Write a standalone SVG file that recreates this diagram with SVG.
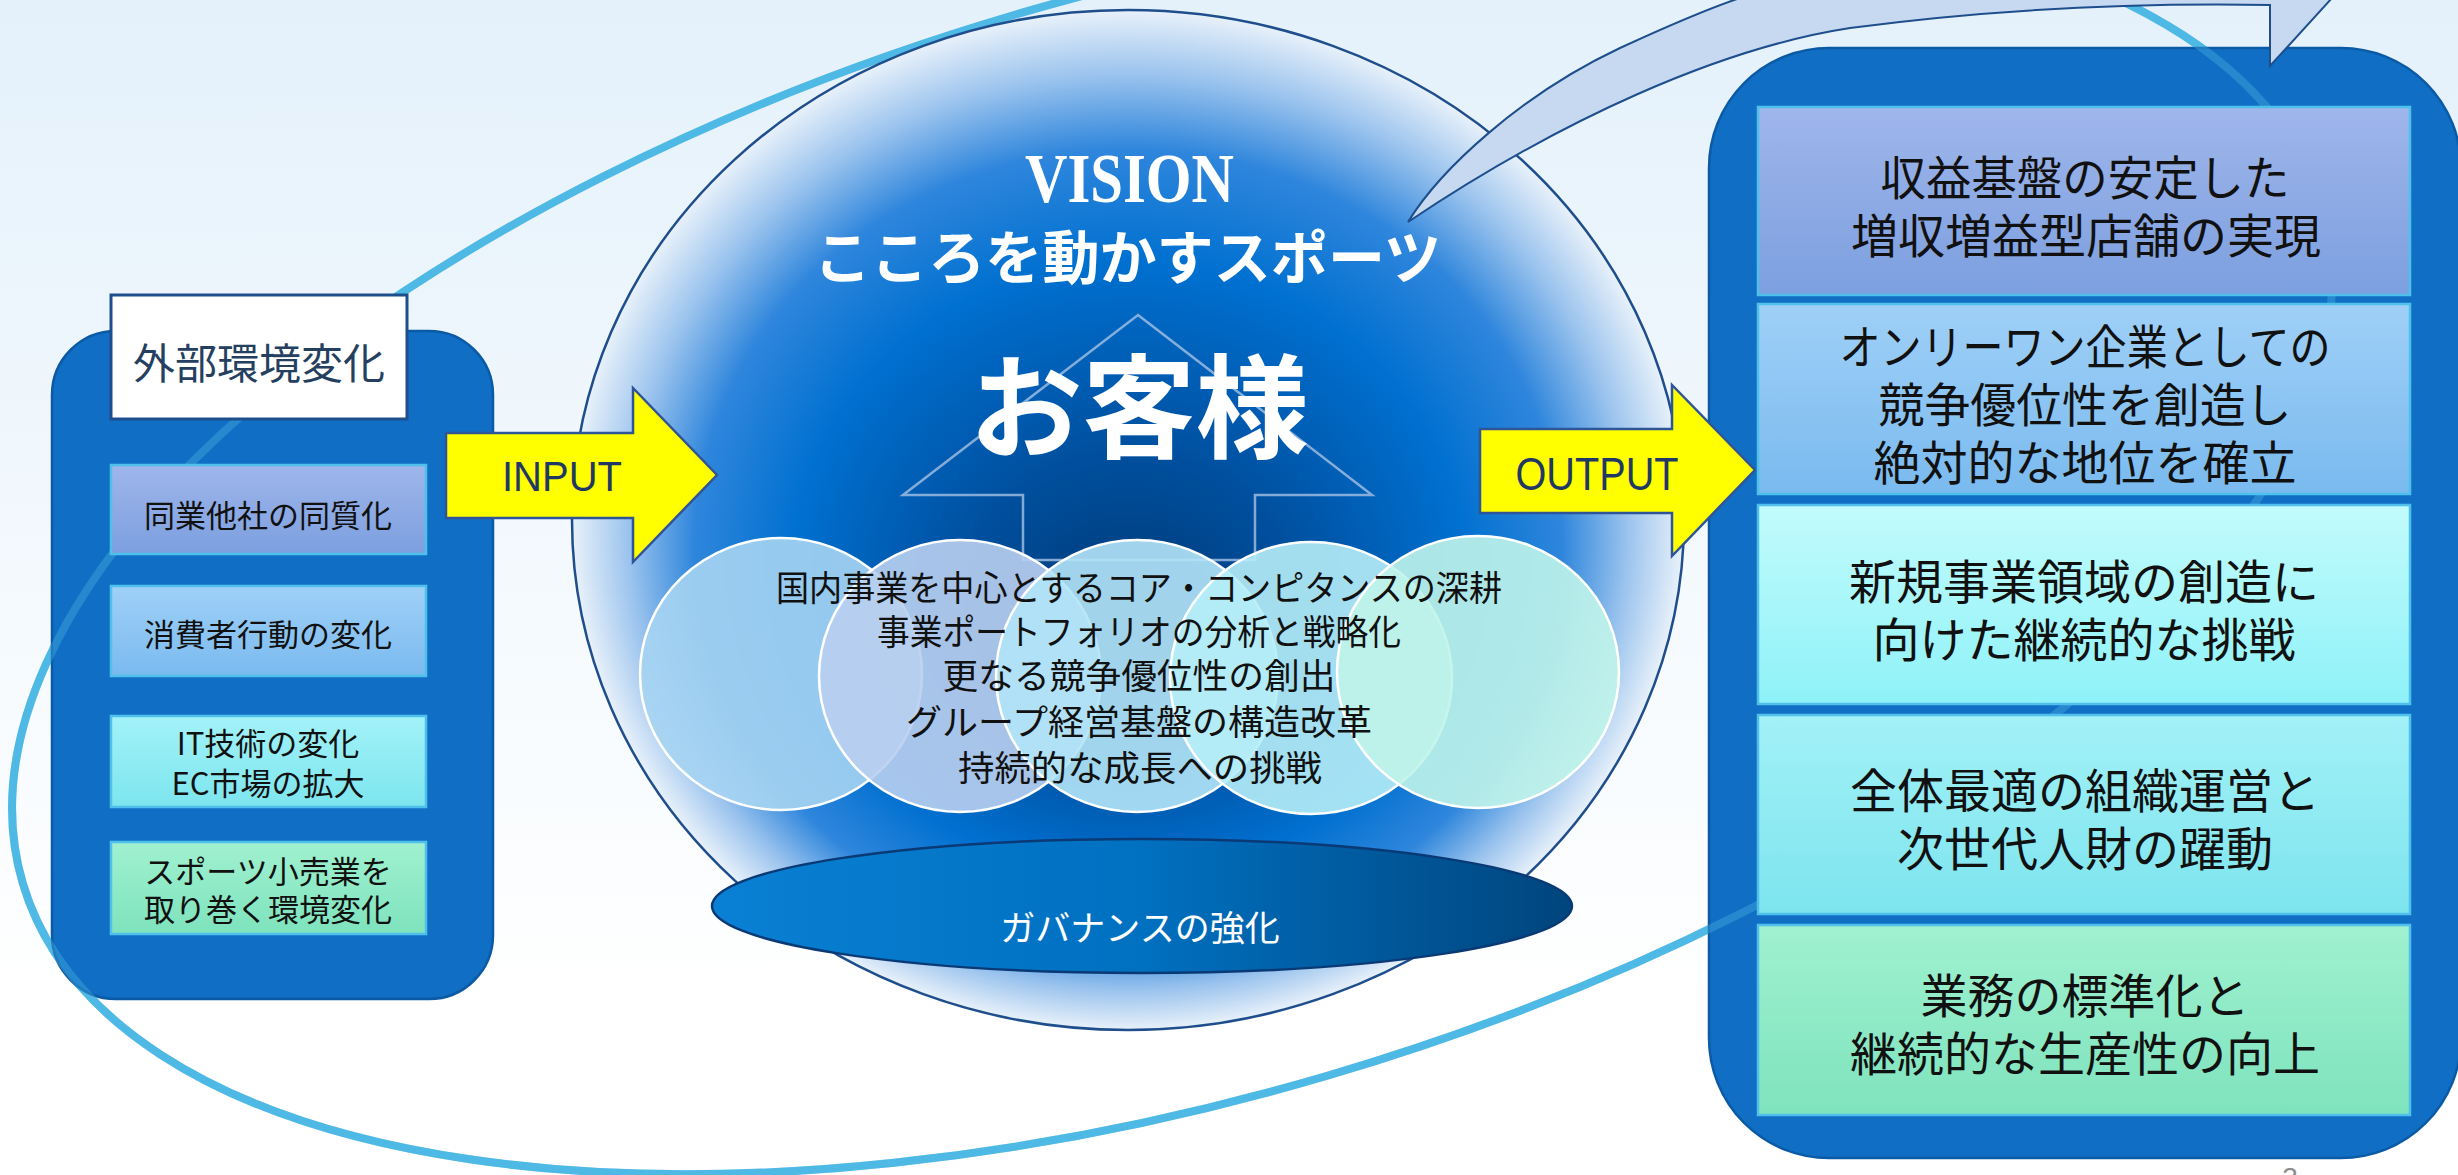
<svg xmlns="http://www.w3.org/2000/svg" width="2458" height="1175" viewBox="0 0 2458 1175">
<defs>
  <linearGradient id="bg" x1="0" y1="0" x2="0" y2="1">
    <stop offset="0" stop-color="#e4f1fb"/>
    <stop offset="0.85" stop-color="#ffffff"/>
  </linearGradient>
  <radialGradient id="orb" cx="0.5" cy="0.5" r="0.5" fx="0.5" fy="0.62">
    <stop offset="0" stop-color="#003670"/>
    <stop offset="0.3" stop-color="#004f9e"/>
    <stop offset="0.6" stop-color="#0070d0"/>
    <stop offset="0.78" stop-color="#2f86dc"/>
    <stop offset="0.9" stop-color="#9cc4ee"/>
    <stop offset="1" stop-color="#e8f1fa"/>
  </radialGradient>
  <linearGradient id="gov" x1="0" y1="0" x2="1" y2="0">
    <stop offset="0" stop-color="#0a80d4"/>
    <stop offset="0.5" stop-color="#0070c0"/>
    <stop offset="1" stop-color="#00457d"/>
  </linearGradient>
  <linearGradient id="g1" x1="0" y1="0" x2="0" y2="1"><stop offset="0" stop-color="#9fb6eb"/><stop offset="1" stop-color="#7c9fdf"/></linearGradient>
  <linearGradient id="g2" x1="0" y1="0" x2="0" y2="1"><stop offset="0" stop-color="#9fd0f7"/><stop offset="1" stop-color="#7abaef"/></linearGradient>
  <linearGradient id="g3" x1="0" y1="0" x2="0" y2="1"><stop offset="0" stop-color="#c2fbfc"/><stop offset="1" stop-color="#8ef2f8"/></linearGradient>
  <linearGradient id="g3l" x1="0" y1="0" x2="0" y2="1"><stop offset="0" stop-color="#a2f2f8"/><stop offset="1" stop-color="#7de5ee"/></linearGradient>
  <linearGradient id="g4" x1="0" y1="0" x2="0" y2="1"><stop offset="0" stop-color="#a2f1f7"/><stop offset="1" stop-color="#7de4ee"/></linearGradient>
  <linearGradient id="g5" x1="0" y1="0" x2="0" y2="1"><stop offset="0" stop-color="#a0f1d0"/><stop offset="1" stop-color="#7ee3bd"/></linearGradient>
  <style>
    .panel{fill:#106fc4;stroke:#0b5aa6;stroke-width:2.5}
    .box{stroke:#4fc0ec;stroke-width:2.5}
    .ring{fill:none;stroke:#4fb9e5;stroke-width:8}
    .cloud{fill-opacity:0.9;stroke:#ffffff;stroke-width:2.5}
    .arrow{fill:#ffff00;stroke:#2f5597;stroke-width:2.5}
    .jp{font-family:"Noto Sans CJK JP","Noto Sans CJK SC",sans-serif}
    .lt{font-size:31px;fill:#111111;text-anchor:middle}
    .rt{font-size:47px;fill:#111111;text-anchor:middle}
    .ct{font-size:35px;fill:#111111;text-anchor:middle}
    .en{font-family:"Liberation Sans",Arial,sans-serif;fill:#1f3864;text-anchor:middle}
  </style>
</defs>

<rect x="0" y="0" width="2458" height="1175" fill="url(#bg)"/>

<g id="ring">
  <ellipse class="ring" cx="1172" cy="545" rx="1198" ry="553" transform="rotate(-16.4 1172 545)"/>
</g>

<g id="left-panel-bg">
  <rect class="panel" x="52" y="331" width="441" height="668" rx="64" ry="64"/>
</g>
<g id="right-panel-bg">
  <rect class="panel" x="1709" y="48" width="752" height="1110" rx="120" ry="120"/>
</g>

<g id="ring-overlay" opacity="0.35">
  <ellipse class="ring" cx="1172" cy="545" rx="1198" ry="553" transform="rotate(-16.4 1172 545)"/>
</g>

<g id="vision-orb">
  <ellipse cx="1128" cy="520" rx="556" ry="510" fill="url(#orb)" stroke="#1f4e8c" stroke-width="2.5"/>
  <polygon points="1138,315 1372,495 1255,495 1255,560 1023,560 1023,495 903,495" fill="none" stroke="#a5c1e4" stroke-opacity="0.8" stroke-width="2.5"/>
  <text class="jp" x="1139" y="449" font-size="113" font-weight="bold" fill="#ffffff" text-anchor="middle">お客様</text>
  <text x="1129.5" y="202" font-family="'Liberation Serif','Times New Roman',serif" font-size="70" font-weight="bold" fill="#ffffff" text-anchor="middle" textLength="209" lengthAdjust="spacingAndGlyphs">VISION</text>
  <text class="jp" x="1127.5" y="279" font-size="58" font-weight="bold" fill="#ffffff" text-anchor="middle" textLength="627" lengthAdjust="spacingAndGlyphs">こころを動かすスポーツ</text>
</g>

<g id="core-circles">
  <ellipse class="cloud" cx="781" cy="674" rx="141" ry="136" fill="#a6d4f2"/>
  <ellipse class="cloud" cx="960" cy="676" rx="141" ry="136" fill="#b9cff0"/>
  <ellipse class="cloud" cx="1137" cy="676" rx="141" ry="136" fill="#b3e4f7"/>
  <ellipse class="cloud" cx="1311" cy="678" rx="141" ry="136" fill="#b5edf7"/>
  <ellipse class="cloud" cx="1478" cy="672" rx="141" ry="136" fill="#c0f4ea"/>
  <text class="jp ct" x="1139" y="601" textLength="726" lengthAdjust="spacingAndGlyphs">国内事業を中心とするコア・コンピタンスの深耕</text>
  <text class="jp ct" x="1139" y="645" textLength="524" lengthAdjust="spacingAndGlyphs">事業ポートフォリオの分析と戦略化</text>
  <text class="jp ct" x="1139" y="689" textLength="393" lengthAdjust="spacingAndGlyphs">更なる競争優位性の創出</text>
  <text class="jp ct" x="1139" y="735" textLength="466" lengthAdjust="spacingAndGlyphs">グループ経営基盤の構造改革</text>
  <text class="jp ct" x="1140" y="781" textLength="364" lengthAdjust="spacingAndGlyphs">持続的な成長への挑戦</text>
</g>

<g id="governance">
  <ellipse cx="1142" cy="906" rx="430" ry="67" fill="url(#gov)" stroke="#0a3a75" stroke-width="2.5"/>
  <text class="jp" x="1140" y="941" font-size="35" fill="#ffffff" text-anchor="middle">ガバナンスの強化</text>
</g>

<g id="connectors">
  <path id="feedback-arrow" d="M1408,222 C1440,170 1520,95 1620,48 C1670,25 1710,8 1740,-2 L2332,-2 L2270,66 L2270,5 C2150,3 2000,8 1850,28 C1720,48 1560,120 1408,222 Z" fill="#c6d9f1" stroke="#1f4e8c" stroke-width="2"/>
  <g id="input-arrow">
    <polygon class="arrow" points="446,433 633,433 633,388 717,475 633,562 633,518 446,518"/>
    <text class="en" x="562" y="491" font-size="42" textLength="120" lengthAdjust="spacingAndGlyphs">INPUT</text>
  </g>
  <g id="output-arrow">
    <polygon class="arrow" points="1480,429 1672,429 1672,385 1755,470 1672,556 1672,513 1480,513"/>
    <text class="en" x="1597" y="490" font-size="46" textLength="163" lengthAdjust="spacingAndGlyphs">OUTPUT</text>
  </g>
</g>

<g id="external-changes">
  <rect x="111" y="295" width="296" height="124" fill="#ffffff" stroke="#1f4e8c" stroke-width="3"/>
  <text class="jp" x="259" y="379" font-size="42" fill="#243f60" text-anchor="middle">外部環境変化</text>
  <g id="ext-1">
    <rect class="box" x="111" y="465" width="315" height="89" fill="url(#g1)"/>
    <text class="jp lt" x="268" y="527">同業他社の同質化</text>
  </g>
  <g id="ext-2">
    <rect class="box" x="111" y="586" width="315" height="90" fill="url(#g2)"/>
    <text class="jp lt" x="268" y="646">消費者行動の変化</text>
  </g>
  <g id="ext-3">
    <rect class="box" x="111" y="716" width="315" height="91" fill="url(#g3l)"/>
    <text class="jp lt" x="268" y="755">IT技術の変化</text>
    <text class="jp lt" x="268" y="795">EC市場の拡大</text>
  </g>
  <g id="ext-4">
    <rect class="box" x="111" y="842" width="315" height="92" fill="url(#g5)"/>
    <text class="jp lt" x="268" y="883" font-size="30">スポーツ小売業を</text>
    <text class="jp lt" x="268" y="921" font-size="30">取り巻く環境変化</text>
  </g>
</g>

<g id="outputs">
  <g id="out-1">
    <rect class="box" x="1758" y="107" width="652" height="188" fill="url(#g1)"/>
    <text class="jp rt" x="2085" y="195" textLength="409" lengthAdjust="spacingAndGlyphs">収益基盤の安定した</text>
    <text class="jp rt" x="2086" y="253">増収増益型店舗の実現</text>
  </g>
  <g id="out-2">
    <rect class="box" x="1758" y="304" width="652" height="190" fill="url(#g2)"/>
    <text class="jp rt" x="2085" y="364" textLength="491" lengthAdjust="spacingAndGlyphs">オンリーワン企業としての</text>
    <text class="jp rt" x="2085" y="422" textLength="413" lengthAdjust="spacingAndGlyphs">競争優位性を創造し</text>
    <text class="jp rt" x="2085" y="480">絶対的な地位を確立</text>
  </g>
  <g id="out-3">
    <rect class="box" x="1758" y="505" width="652" height="199" fill="url(#g3)"/>
    <text class="jp rt" x="2084" y="599">新規事業領域の創造に</text>
    <text class="jp rt" x="2084" y="657">向けた継続的な挑戦</text>
  </g>
  <g id="out-4">
    <rect class="box" x="1758" y="715" width="652" height="199" fill="url(#g4)"/>
    <text class="jp rt" x="2085" y="808">全体最適の組織運営と</text>
    <text class="jp rt" x="2085" y="866">次世代人財の躍動</text>
  </g>
  <g id="out-5">
    <rect class="box" x="1758" y="925" width="652" height="190" fill="url(#g5)"/>
    <text class="jp rt" x="2085" y="1013">業務の標準化と</text>
    <text class="jp rt" x="2085" y="1071">継続的な生産性の向上</text>
  </g>
</g>

<text x="2290" y="1187" font-family="'Liberation Sans',Arial,sans-serif" font-size="28" fill="#8c8c8c" text-anchor="middle">3</text>
</svg>
